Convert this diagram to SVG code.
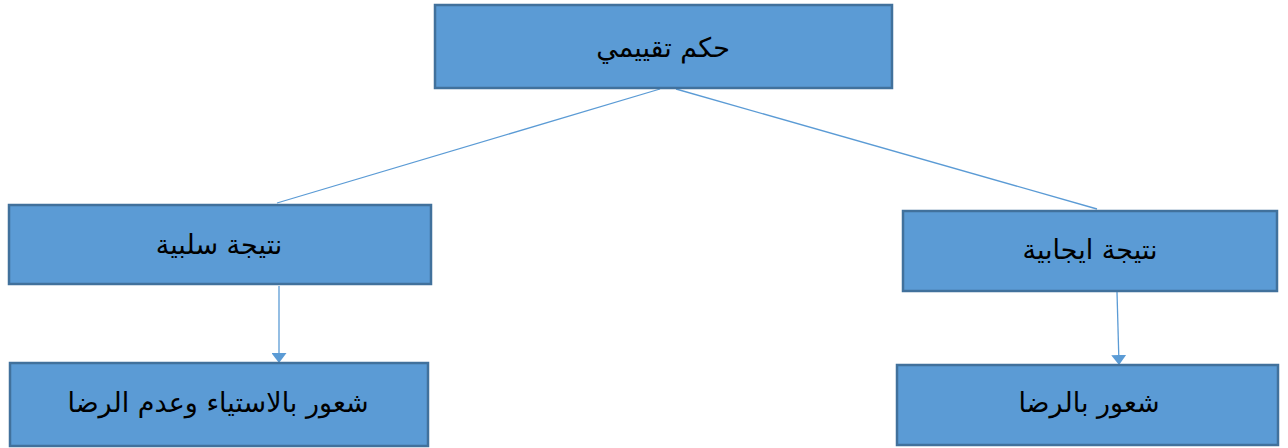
<svg xmlns="http://www.w3.org/2000/svg" width="1288" height="448" viewBox="0 0 1288 448">
<style>
.box{fill:#5B9BD5;stroke:#41719C;stroke-width:2.5}
.lbl{font-family:"DejaVu Sans",sans-serif;font-size:27px;fill:#000;text-anchor:middle;direction:rtl}
.conn{stroke:#5B9BD5;stroke-width:1.3;fill:none}
</style>
<defs>
<marker id="arr" markerWidth="10" markerHeight="15" refX="9" refY="7.5" orient="auto" markerUnits="userSpaceOnUse">
<path d="M0,0 L10,7.5 L0,15 Z" fill="#5B9BD5"/>
</marker>
</defs>
<rect width="1288" height="448" fill="#fff"/>
<g id="connectors">
<line class="conn" x1="660" y1="89" x2="277" y2="203"/>
<line class="conn" x1="676" y1="89" x2="1097" y2="209"/>
<line class="conn" x1="279" y1="286" x2="279" y2="362" marker-end="url(#arr)"/>
<line class="conn" x1="1117" y1="292" x2="1119" y2="364" marker-end="url(#arr)"/>
</g>
<g id="n-top">
<rect class="box" x="435" y="5" width="457" height="83"/>
<text class="lbl" x="663" y="57">حكم تقييمي</text>
</g>
<g id="n-neg">
<rect class="box" x="9" y="205" width="422" height="79"/>
<text class="lbl" x="219" y="254">نتيجة سلبية</text>
</g>
<g id="n-pos">
<rect class="box" x="903" y="211" width="374" height="80"/>
<text class="lbl" x="1090" y="259">نتيجة ايجابية</text>
</g>
<g id="n-neg2">
<rect class="box" x="10" y="363" width="418" height="83"/>
<text class="lbl" x="218" y="412">شعور بالاستياء وعدم الرضا</text>
</g>
<g id="n-pos2">
<rect class="box" x="897" y="365" width="381" height="80"/>
<text class="lbl" x="1089" y="412">شعور بالرضا</text>
</g>
</svg>
